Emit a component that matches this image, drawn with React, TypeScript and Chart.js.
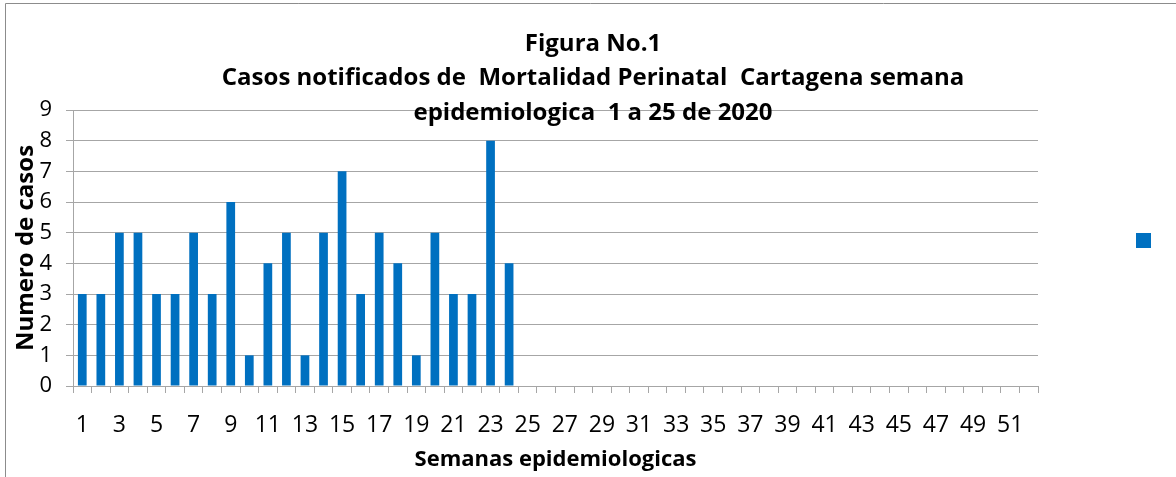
import React, { useEffect, useRef } from "react";
import { Chart, registerables } from "chart.js";

Chart.register(...registerables);

const weeks: string[] = [
  "1","2","3","4","5","6","7","8","9","10","11","12","13","14","15","16","17","18","19","20",
  "21","22","23","24","25","26","27","28","29","30","31","32","33","34","35","36","37","38","39","40",
  "41","42","43","44","45","46","47","48","49","50","51","52",
];
const cases: number[] = [3, 3, 5, 5, 3, 3, 5, 3, 6, 1, 4, 5, 1, 5, 7, 3, 5, 4, 1, 5, 3, 3, 8, 4];
const yTicks: number[] = [0, 1, 2, 3, 4, 5, 6, 7, 8, 9];
const titleLines: string[] = [
  "Figura No.1",
  "Casos notificados de  Mortalidad Perinatal  Cartagena semana",
  "epidemiologica  1 a 25 de 2020",
];
const xTitle = "Semanas epidemiologicas";
const yTitle = "Numero de casos";

const BLUE = "#0070C0";
const GRID = "#a6a6a6";
const FONT = "'Open Sans', 'Noto Sans', sans-serif";

const decorPlugin = {
  id: "decor",
  beforeDraw(chart: any) {
    const { ctx, width, height } = chart;
    ctx.save();
    ctx.fillStyle = "#ffffff";
    ctx.fillRect(0, 0, width, height);
    ctx.strokeStyle = "#8c8c8c";
    ctx.lineWidth = 1;
    ctx.beginPath();
    ctx.moveTo(5.5, height);
    ctx.lineTo(5.5, 3.5);
    ctx.lineTo(width, 3.5);
    ctx.stroke();
    ctx.restore();
  },
  afterDraw(chart: any) {
    const { ctx } = chart;
    ctx.save();
    ctx.fillStyle = "#000000";
    ctx.textAlign = "center";
    ctx.textBaseline = "middle";
    ctx.font = `bold 24px ${FONT}`;
    const ys = [44, 78, 113];
    titleLines.forEach((t, i) => ctx.fillText(t, 593, ys[i]));
    // legend marker (series without a name)
    ctx.fillStyle = BLUE;
    ctx.fillRect(1136, 233, 15, 15);
    ctx.restore();
  },
};

export default function App() {
  const ref = useRef<HTMLCanvasElement | null>(null);
  useEffect(() => {
    if (!ref.current) return;
    const chart = new Chart(ref.current, {
      type: "bar",
      data: {
        labels: weeks,
        datasets: [
          {
            label: "",
            data: cases,
            backgroundColor: BLUE,
            borderWidth: 0,
            barPercentage: 0.47,
            categoryPercentage: 1,
          },
        ],
      },
      options: {
        responsive: false,
        animation: false,
        layout: { padding: { left: 8, right: 138, top: 110, bottom: 4 } },
        plugins: {
          legend: { display: false },
          title: { display: false },
          tooltip: { enabled: false },
        },
        scales: {
          x: {
            afterFit: (s: any) => {
              s.height = 87;
            },
            grid: {
              offset: true,
              drawOnChartArea: false,
              drawTicks: true,
              tickLength: 7,
              color: GRID,
            },
            border: { color: GRID },
            ticks: {
              autoSkip: false,
              maxRotation: 0,
              minRotation: 0,
              padding: 19,
              color: "#000",
              font: { family: FONT, size: 23 },
              callback: (_v: any, i: number) => (i % 2 === 0 ? weeks[i] : ""),
            },
            title: {
              display: true,
              text: xTitle,
              color: "#000",
              font: { family: FONT, size: 22, weight: "bold" },
              padding: { top: 0, bottom: 0 },
            },
          },
          y: {
            min: 0,
            max: 9,
            afterFit: (s: any) => {
              s.width = 65;
            },
            afterBuildTicks: (s: any) => {
              s.ticks = yTicks.map((v) => ({ value: v }));
            },
            grid: { color: GRID, tickLength: 7 },
            border: { color: GRID },
            ticks: {
              stepSize: 1,
              padding: 14,
              color: "#000",
              font: { family: FONT, size: 22 },
            },
            title: {
              display: true,
              text: yTitle,
              color: "#000",
              font: { family: FONT, size: 24, weight: "bold" },
              padding: { top: 4, bottom: 0 },
            },
          },
        },
      },
      plugins: [decorPlugin],
    });
    return () => chart.destroy();
  }, []);
  return (
    <div style={{ position: "absolute", left: 0, top: 0, width: 1176, height: 477 }}>
      <canvas ref={ref} width={1176} height={477} />
    </div>
  );
}
